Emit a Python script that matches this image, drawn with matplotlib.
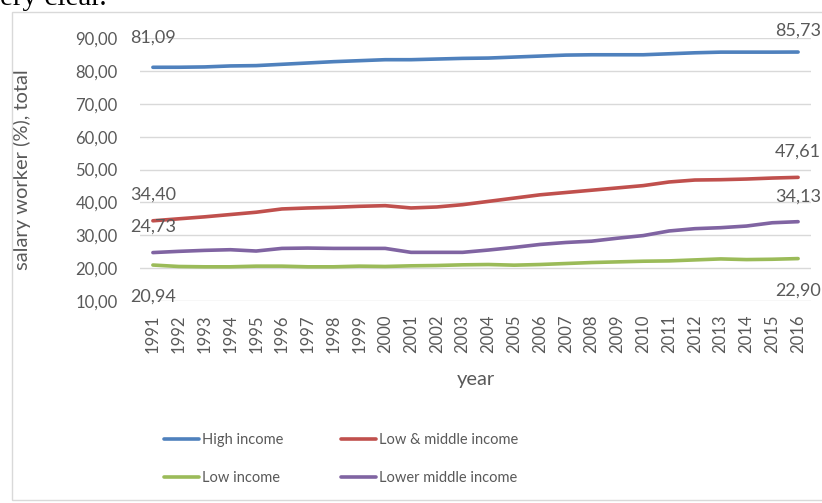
import matplotlib
matplotlib.use("Agg")
from matplotlib import pyplot as plt
from matplotlib.patches import Rectangle

plt.rcParams['font.family'] = ['Lato', 'DejaVu Sans']

years = [str(y) for y in range(1991, 2017)]

high_income = [81.09, 81.1, 81.2, 81.5, 81.6, 82.0, 82.4, 82.8, 83.1, 83.4, 83.4, 83.6, 83.8,
               83.9, 84.2, 84.5, 84.8, 84.9, 84.9, 84.9, 85.2, 85.5, 85.7, 85.7, 85.7, 85.73]
low_middle_income = [34.40, 35.0, 35.6, 36.3, 37.0, 38.0, 38.3, 38.5, 38.8, 39.0, 38.3, 38.6, 39.3,
                     40.3, 41.3, 42.3, 43.0, 43.7, 44.4, 45.1, 46.2, 46.8, 46.9, 47.1, 47.4, 47.61]
low_income = [20.94, 20.5, 20.4, 20.4, 20.6, 20.6, 20.4, 20.4, 20.6, 20.5, 20.7, 20.8, 21.0,
              21.1, 20.9, 21.1, 21.4, 21.7, 21.9, 22.1, 22.2, 22.5, 22.8, 22.6, 22.7, 22.90]
lower_middle_income = [24.73, 25.1, 25.4, 25.6, 25.2, 26.0, 26.1, 26.0, 26.0, 26.0, 24.8, 24.8, 24.8,
                       25.5, 26.3, 27.2, 27.8, 28.2, 29.1, 29.9, 31.3, 32.0, 32.3, 32.8, 33.8, 34.13]

series = [
    ("High income", high_income, "#4F81BD"),
    ("Low & middle income", low_middle_income, "#C0504D"),
    ("Low income", low_income, "#9BBB59"),
    ("Lower middle income", lower_middle_income, "#8064A2"),
]

# where Excel put the first / last data labels
first_label_y = [90.0, 42.5, 11.2, 32.5]
last_label_y = [92.1, 55.4, 13.3, 41.6]

grey = "#595959"

fig = plt.figure(figsize=(8.22, 5.03), dpi=100)

# chart border
fig.patches.append(Rectangle((12 / 822, 1 - 500 / 503), 830 / 822, 488 / 503,
                             transform=fig.transFigure, fill=False,
                             edgecolor="#D9D9D9", linewidth=1))
# leftover text line from the document above the chart
fig.text(0.0, 1 - 5 / 503, "ery clear.", family="Liberation Serif", fontsize=21,
         va="baseline", ha="left", color="black")

ax = fig.add_axes([140 / 822, 1 - 301 / 503, 671 / 822, 263 / 503])
x = list(range(len(years)))
handles = []
for (name, vals, col), fy, ly in zip(series, first_label_y, last_label_y):
    h, = ax.plot(x, vals, color=col, linewidth=2.6, solid_capstyle="round", label=name)
    handles.append(h)
    ax.text(x[0], fy, f"{vals[0]:.2f}".replace(".", ","), ha="center", va="center",
            fontsize=13, color=grey)
    ax.text(x[-1], ly, f"{vals[-1]:.2f}".replace(".", ","), ha="center", va="center",
            fontsize=13, color=grey, clip_on=False)

ax.set_xlim(-0.5, len(years) - 0.5)
ax.set_ylim(10, 90)
ax.set_yticks(range(10, 91, 10))
ax.set_yticklabels([f"{v:.2f}".replace(".", ",") for v in range(10, 91, 10)])
ax.set_xticks(x)
ax.set_xticklabels(years, rotation=90)
ax.tick_params(axis="y", length=0, pad=16, labelsize=12, labelcolor=grey)
ax.tick_params(axis="x", length=0, pad=10, labelsize=12, labelcolor=grey)
ax.grid(axis="y", color="#D9D9D9", linewidth=1)
ax.set_axisbelow(True)
for s in ax.spines.values():
    s.set_visible(False)

ax.set_ylabel("salary worker (%), total", fontsize=14.5, color=grey)
ax.yaxis.set_label_coords(-0.162, 0.5)
ax.set_xlabel("year", fontsize=14.5, color=grey)
ax.xaxis.set_label_coords(0.5, -0.265)

order = [handles[0], handles[2], handles[1], handles[3]]
fig.legend(order, [h.get_label() for h in order], ncol=2, loc="center",
           bbox_to_anchor=(341 / 822, 1 - 459 / 503), frameon=False,
           fontsize=10.5, labelcolor=grey, handlelength=2.4, handletextpad=0.2,
           columnspacing=4.0, labelspacing=1.6)

fig.savefig("out.png", dpi=100)
